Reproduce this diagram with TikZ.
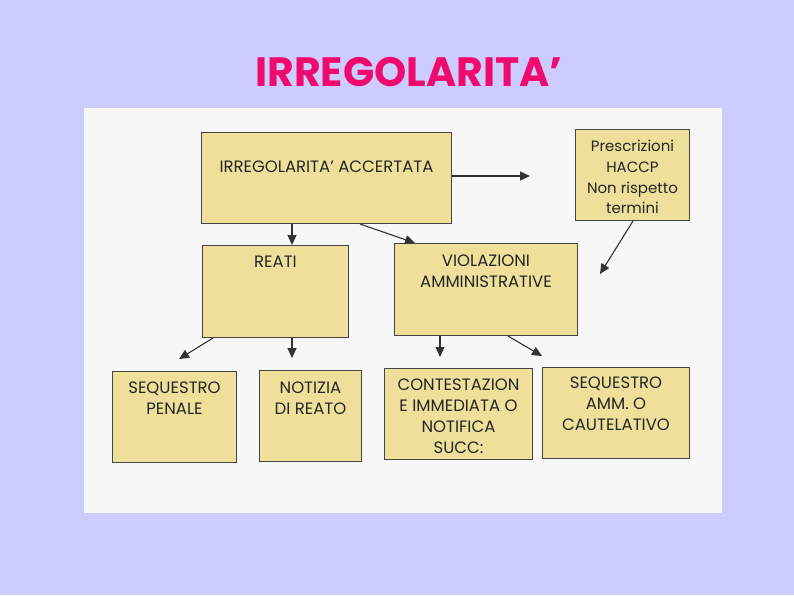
\documentclass[tikz,border=0pt]{standalone}
\usepackage{fontspec}
\setmainfont{Poppins}
\usepackage{xcolor}
\usepackage{tikz}
\usetikzlibrary{positioning, arrows.meta}
\definecolor{bgLav}{RGB}{204,204,255}
\definecolor{titlePink}{RGB}{240,10,110}
\definecolor{panelGrey}{RGB}{247,247,247}
\definecolor{boxKhaki}{RGB}{238,224,155}
\definecolor{lineGrey}{RGB}{70,70,70}

\begin{document}
\begin{tikzpicture}[
    x=1pt, y=-1pt,
    block/.style={rectangle, draw=lineGrey, fill=boxKhaki, line width=1pt, anchor=north west, inner sep=0pt},
    txt/.style={font=\fontsize{16.5}{21}\selectfont, align=center, inner sep=0pt, text=black!85},
    arrow/.style={-{Triangle[length=10pt, width=9pt]}, line width=1.1pt, draw=black!80}
]
% Background
\fill[bgLav] (0,0) rectangle (794,595);
\fill[panelGrey] (84,108) rectangle (722,513);
\node[font=\fontsize{41}{44}\selectfont\bfseries, text=titlePink] (title) at (409,72) {IRREGOLARITA'};

% Boxes
\node[block, minimum width=250pt, minimum height=91pt] (acc) at (201,132) {};
\node[block, minimum width=114pt, minimum height=91pt] (prescr) at (575,129) {};
\node[block, minimum width=146pt, minimum height=92pt] (reati) at (202,245) {};
\node[block, minimum width=183pt, minimum height=92pt] (viol) at (394,243) {};
\node[block, minimum width=124pt, minimum height=91pt] (seqpen) at (112,371) {};
\node[block, minimum width=102pt, minimum height=91pt] (notizia) at (259,370) {};
\node[block, minimum width=148pt, minimum height=91pt] (contest) at (384,368) {};
\node[block, minimum width=147pt, minimum height=91pt] (seqamm) at (542,367) {};

% Texts
\node[txt, below=29pt of acc.north] (acc-t) {IRREGOLARITA' ACCERTATA};
\node[txt, font=\fontsize{15}{20.7}\selectfont, below=11pt of prescr.north] (prescr-t) {Prescrizioni\\HACCP\\Non rispetto\\termini};
\node[txt, below=11pt of reati.north] (reati-t) {REATI};
\node[txt, below=12pt of viol.north] (viol-t) {VIOLAZIONI\\AMMINISTRATIVE};
\node[txt, below=11pt of seqpen.north] (seqpen-t) {SEQUESTRO\\PENALE};
\node[txt, below=12pt of notizia.north] (notizia-t) {NOTIZIA\\DI REATO};
\node[txt, below=11pt of contest.north] (contest-t) {CONTESTAZION\\E IMMEDIATA O\\NOTIFICA\\SUCC:};
\node[txt, below=10pt of seqamm.north] (seqamm-t) {SEQUESTRO\\AMM. O\\CAUTELATIVO};

% Free arrow ends
\coordinate (accEnd) at (530,176);
\coordinate (prEnd) at (600,274);
\coordinate (reEndL) at (179,359);
\coordinate (reEndD) at (292,358);
\coordinate (viEndD) at (440,357);
\coordinate (viEndR) at (542,356);

% Arrows
\draw[arrow] (acc.east |- accEnd) -- (accEnd);
\draw[arrow] ([xshift=91pt]acc.south west) -- ([xshift=90pt]reati.north west);
\draw[arrow] ([xshift=159pt]acc.south west) -- ([xshift=21pt]viol.north west);
\draw[arrow] ([xshift=58pt]prescr.south west) -- (prEnd);
\draw[arrow] ([xshift=11pt]reati.south west) -- (reEndL);
\draw[arrow] ([xshift=90pt]reati.south west) -- (reEndD);
\draw[arrow] ([xshift=46pt]viol.south west) -- (viEndD);
\draw[arrow] ([xshift=114pt]viol.south west) -- (viEndR);
\end{tikzpicture}
\end{document}
